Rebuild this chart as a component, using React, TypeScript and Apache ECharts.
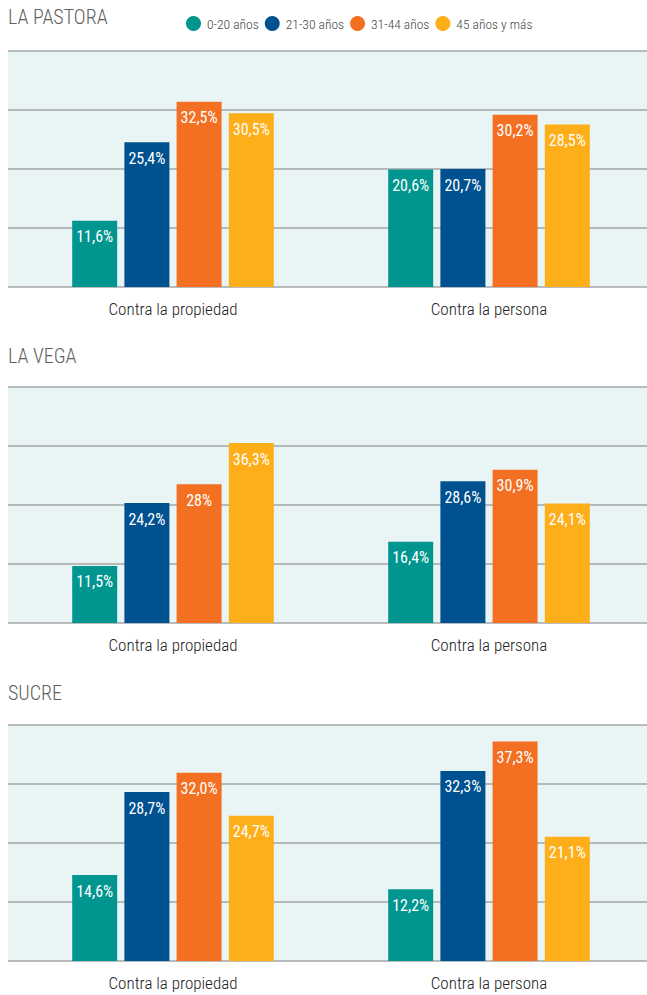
import React, { useEffect, useRef } from "react";
import * as echarts from "echarts";

const categories = ["Contra la propiedad", "Contra la persona"];
const ageGroups = ["0-20 años", "21-30 años", "31-44 años", "45 años y más"];
const colors = ["#00968f", "#00518f", "#f37022", "#fdae19"];

const pastoraPropiedad = [11.6, 25.4, 32.5, 30.5];
const pastoraPersona = [20.6, 20.7, 30.2, 28.5];
const pastoraLabelsPropiedad = ["11,6%", "25,4%", "32,5%", "30,5%"];
const pastoraLabelsPersona = ["20,6%", "20,7%", "30,2%", "28,5%"];

const vegaPropiedad = [11.5, 24.2, 28, 36.3];
const vegaPersona = [16.4, 28.6, 30.9, 24.1];
const vegaLabelsPropiedad = ["11,5%", "24,2%", "28%", "36,3%"];
const vegaLabelsPersona = ["16,4%", "28,6%", "30,9%", "24,1%"];

const sucrePropiedad = [14.6, 28.7, 32.0, 24.7];
const sucrePersona = [12.2, 32.3, 37.3, 21.1];
const sucreLabelsPropiedad = ["14,6%", "28,7%", "32,0%", "24,7%"];
const sucreLabelsPersona = ["12,2%", "32,3%", "37,3%", "21,1%"];

const panels = [
  { title: "LA PASTORA", propiedad: pastoraPropiedad, persona: pastoraPersona, lp: pastoraLabelsPropiedad, lq: pastoraLabelsPersona, max: 41.4, top: 51, titleY: 17 },
  { title: "LA VEGA", propiedad: vegaPropiedad, persona: vegaPersona, lp: vegaLabelsPropiedad, lq: vegaLabelsPersona, max: 47.6, top: 387, titleY: 356 },
  { title: "SUCRE", propiedad: sucrePropiedad, persona: sucrePersona, lp: sucreLabelsPropiedad, lq: sucreLabelsPersona, max: 40.1, top: 725, titleY: 693 },
];

const NARROW = '"Roboto Condensed", "Liberation Sans Narrow", "DejaVu Sans Condensed", "Arial Narrow", sans-serif';
const PLOT_H = 236;
const GRID_COLOR = "#a2a5a7";

export default function App() {
  const ref = useRef<HTMLDivElement>(null);

  useEffect(() => {
    if (!ref.current) return;
    const chart = echarts.init(ref.current, undefined, { renderer: "svg" });

    const grid: any[] = [];
    const xAxis: any[] = [];
    const yAxis: any[] = [];
    const series: any[] = [];
    const graphic: any[] = [];

    panels.forEach((p) => {
      const bgIdx = grid.length;
      grid.push({ left: 8, width: 639, top: p.top, height: PLOT_H, show: true, backgroundColor: "#e9f5f5", borderWidth: 0, z: 0 });
      xAxis.push({ gridIndex: bgIdx, type: "value", show: false });
      yAxis.push({
        gridIndex: bgIdx, type: "value", min: 0, max: 4, interval: 1,
        axisLabel: { show: false }, axisLine: { show: false }, axisTick: { show: false },
        splitLine: { show: true, lineStyle: { color: GRID_COLOR, width: 1.5 } },
      });
      const bIdx = grid.length;
      grid.push({ left: 15, width: 635, top: p.top, height: PLOT_H, show: false });
      xAxis.push({
        gridIndex: bIdx, type: "category", data: categories,
        axisLine: { show: false }, axisTick: { show: false },
        axisLabel: { color: "#222", fontSize: 17, fontFamily: NARROW, fontWeight: 300, margin: 13 },
      });
      yAxis.push({ gridIndex: bIdx, type: "value", min: 0, max: p.max, show: false, splitLine: { show: false } });

      ageGroups.forEach((g, gi) => {
        const labels = [p.lp[gi], p.lq[gi]];
        series.push({
          name: g,
          type: "bar",
          xAxisIndex: bIdx,
          yAxisIndex: bIdx,
          data: [p.propiedad[gi], p.persona[gi]],
          barWidth: 45,
          barGap: "16%",
          itemStyle: { color: colors[gi] },
          label: {
            show: true,
            position: "insideTop",
            distance: 8,
            color: "#fff",
            fontSize: 16,
            fontFamily: NARROW,
            formatter: (params: any) => labels[params.dataIndex],
          },
          z: 3,
        });
      });

      graphic.push({
        type: "text",
        left: 8,
        top: p.titleY - 10,
        style: { text: p.title, fill: "#606060", fontSize: 20, fontFamily: NARROW, fontWeight: 300 },
      });
    });

    chart.setOption({
      animation: false,
      backgroundColor: "#ffffff",
      legend: {
        left: 181,
        top: 11,
        icon: "circle",
        itemWidth: 15,
        itemHeight: 15,
        itemGap: 6,
        data: ageGroups,
        textStyle: { color: "#444", fontSize: 13.5, fontFamily: NARROW, fontWeight: 300, padding: [0, 0, 0, 1] },
      },
      grid,
      xAxis,
      yAxis,
      series,
      graphic,
    });

    return () => chart.dispose();
  }, []);

  return <div ref={ref} style={{ position: "absolute", left: 0, top: 0, width: 647, height: 995 }} />;
}
